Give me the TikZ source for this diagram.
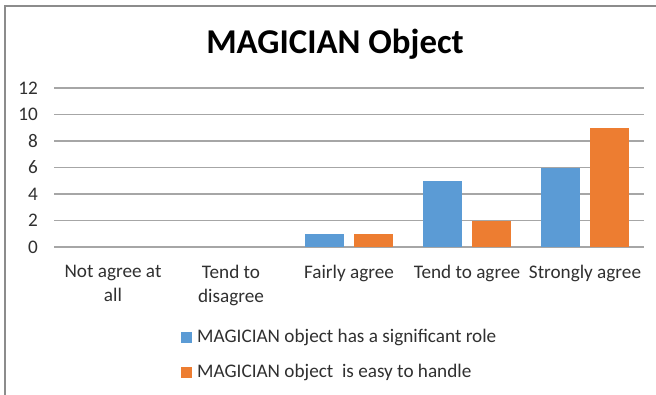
\documentclass[tikz,border=0pt]{standalone}
\usepackage{fontspec}
\setmainfont{Carlito}
\definecolor{barblue}{HTML}{5B9BD5}
\definecolor{barorange}{HTML}{ED7D31}
\definecolor{gridgray}{HTML}{A6A6A6}
\definecolor{framegray}{HTML}{8C8C8C}
\definecolor{txt}{HTML}{303030}
\begin{document}
\begin{tikzpicture}[x=1pt,y=-1pt,
  lab/.style={font=\fontsize{19.2}{24}\selectfont, text=txt, inner sep=0pt},
  ylab/.style={lab, anchor=east},
  clab/.style={lab, align=center, anchor=north},
  gridline/.style={draw=gridgray, line width=1.1pt},
  bluebar/.style={fill=barblue},
  orangebar/.style={fill=barorange},
  legbox/.style={minimum width=11pt, minimum height=11pt, inner sep=0pt}]
\useasboundingbox (0,0) rectangle (656,394);
\fill[white] (0,0) rectangle (656,394);
% frame
\draw[framegray, line width=1.5pt] (5,400) -- (5,6) -- (660,6);
% title
\node[font=\fontsize{34.8}{40}\selectfont\bfseries, inner sep=0pt] (title) at (335,44) {MAGICIAN Object};
% grid and y labels
\foreach \v in {0,2,...,12}{
  \draw[gridline] (54,{247-13.25*\v}) -- (644,{247-13.25*\v});
  \node[ylab] (y\v) at (38,{247-13.25*\v}) {\v};
}
% bars
\foreach \i/\a/\b in {2/1/1, 3/5/2, 4/6/9}{
  \pgfmathsetmacro{\c}{113+118*\i}
  \fill[bluebar] ({\c-44},247) rectangle ({\c-5},{247-13.25*\a});
  \fill[orangebar] ({\c+5},247) rectangle ({\c+44},{247-13.25*\b});
}
% category labels
\node[clab] (c0) at (113,264.5) {Not agree at\\all};
\node[clab] (c1) at (231,264.5) {Tend to\\disagree};
\node[clab] (c2) at (349,264.5) {Fairly agree};
\node[clab] (c3) at (467,264.5) {Tend to agree};
\node[clab] (c4) at (585,264.5) {Strongly agree};
% legend
\node[legbox, fill=barblue] (lb1) at (186.5,337) {};
\node[lab, anchor=west] (lt1) at (197,337.5) {MAGICIAN object has a significant role};
\node[legbox, fill=barorange] (lb2) at (186.5,372) {};
\node[lab, anchor=west] (lt2) at (197,372.5) {MAGICIAN object\ \ is easy to handle};
\end{tikzpicture}
\end{document}
